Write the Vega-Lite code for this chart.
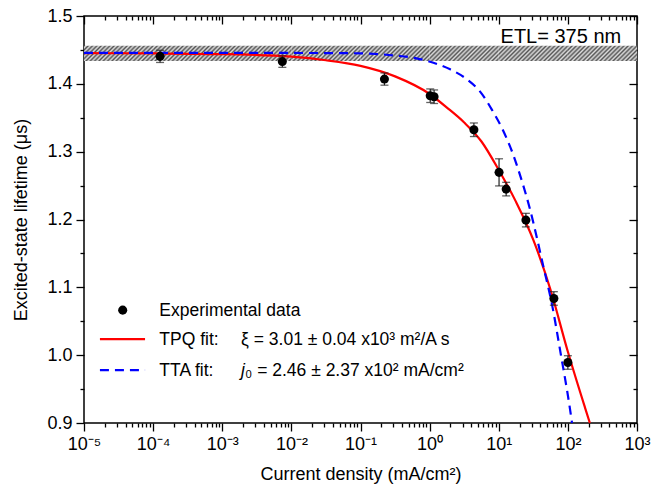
{
  "$schema": "https://vega.github.io/schema/vega-lite/v6.json",
  "width": 553,
  "height": 407,
  "autosize": {"type": "none"},
  "padding": {"left": 84, "top": 16, "right": 34, "bottom": 66},
  "background": "white",
  "config": {
    "view": {"stroke": "black", "strokeWidth": 1.5},
    "axis": {
      "domain": false,
      "grid": false,
      "tickColor": "black",
      "tickWidth": 1.3,
      "labelColor": "black",
      "labelFont": "Liberation Sans",
      "labelFontSize": 18,
      "titleFont": "Liberation Sans",
      "titleFontSize": 18,
      "titleFontWeight": "normal",
      "titleColor": "black"
    },
    "text": {"font": "Liberation Sans", "color": "black"}
  },
  "datasets": {
    "band": [
      {"from": 0.00001, "to": 0.0001, "low": 1.4336, "high": 1.4562},
      {"from": 0.0001, "to": 0.001, "low": 1.4336, "high": 1.4562},
      {"from": 0.001, "to": 0.01, "low": 1.4336, "high": 1.4562},
      {"from": 0.01, "to": 0.1, "low": 1.4336, "high": 1.4562},
      {"from": 0.1, "to": 1, "low": 1.4336, "high": 1.4562},
      {"from": 1, "to": 10, "low": 1.4336, "high": 1.4562},
      {"from": 10, "to": 100, "low": 1.4336, "high": 1.4562},
      {"from": 100, "to": 1000, "low": 1.4336, "high": 1.4562}
    ],
    "points": [
      {"j": 0.000126, "tau": 1.4405, "lo": 1.4315, "hi": 1.4495},
      {"j": 0.0074, "tau": 1.4328, "lo": 1.4243, "hi": 1.4413},
      {"j": 0.222, "tau": 1.407, "lo": 1.398, "hi": 1.416},
      {"j": 1.02, "tau": 1.3825, "lo": 1.3725, "hi": 1.3925},
      {"j": 1.16, "tau": 1.381, "lo": 1.371, "hi": 1.391},
      {"j": 4.37, "tau": 1.3323, "lo": 1.3223, "hi": 1.3423},
      {"j": 10.1, "tau": 1.2695, "lo": 1.2495, "hi": 1.2895},
      {"j": 12.8, "tau": 1.2448, "lo": 1.2348, "hi": 1.2548},
      {"j": 24.7, "tau": 1.1991, "lo": 1.1891, "hi": 1.2091},
      {"j": 62.7, "tau": 1.0836, "lo": 1.0736, "hi": 1.0936},
      {"j": 100, "tau": 0.9892, "lo": 0.9792, "hi": 0.9992}
    ],
    "curves": [
      {"fit": "TPQ", "j": 0.00001, "tau": 1.4452},
      {"fit": "TPQ", "j": 0.0001, "tau": 1.4448},
      {"fit": "TPQ", "j": 0.001, "tau": 1.4438},
      {"fit": "TPQ", "j": 0.01, "tau": 1.4400},
      {"fit": "TPQ", "j": 0.03162, "tau": 1.4348},
      {"fit": "TPQ", "j": 0.1, "tau": 1.4265},
      {"fit": "TPQ", "j": 0.3162, "tau": 1.411},
      {"fit": "TPQ", "j": 1, "tau": 1.385},
      {"fit": "TPQ", "j": 1.778, "tau": 1.365},
      {"fit": "TPQ", "j": 3.162, "tau": 1.343},
      {"fit": "TPQ", "j": 5.623, "tau": 1.315},
      {"fit": "TPQ", "j": 10, "tau": 1.273},
      {"fit": "TPQ", "j": 17.78, "tau": 1.226},
      {"fit": "TPQ", "j": 31.62, "tau": 1.17},
      {"fit": "TPQ", "j": 56.23, "tau": 1.096},
      {"fit": "TPQ", "j": 100, "tau": 1.005},
      {"fit": "TPQ", "j": 177.8, "tau": 0.922},
      {"fit": "TPQ", "j": 208, "tau": 0.9},
      {"fit": "TTA", "j": 0.00001, "tau": 1.4455},
      {"fit": "TTA", "j": 0.01, "tau": 1.4455},
      {"fit": "TTA", "j": 0.1, "tau": 1.445},
      {"fit": "TTA", "j": 0.1698, "tau": 1.444},
      {"fit": "TTA", "j": 0.3311, "tau": 1.4415},
      {"fit": "TTA", "j": 0.6457, "tau": 1.4376},
      {"fit": "TTA", "j": 1.135, "tau": 1.4311},
      {"fit": "TTA", "j": 1.982, "tau": 1.4214},
      {"fit": "TTA", "j": 3.451, "tau": 1.4067},
      {"fit": "TTA", "j": 5.623, "tau": 1.386},
      {"fit": "TTA", "j": 7.943, "tau": 1.362},
      {"fit": "TTA", "j": 11.22, "tau": 1.334},
      {"fit": "TTA", "j": 15.85, "tau": 1.298},
      {"fit": "TTA", "j": 19.95, "tau": 1.268},
      {"fit": "TTA", "j": 28.51, "tau": 1.214},
      {"fit": "TTA", "j": 44.36, "tau": 1.13},
      {"fit": "TTA", "j": 58.61, "tau": 1.076},
      {"fit": "TTA", "j": 77.27, "tau": 1.007},
      {"fit": "TTA", "j": 107.9, "tau": 0.919},
      {"fit": "TTA", "j": 114.8, "tau": 0.9}
    ]
  },
  "resolve": {"axis": {"x": "independent", "y": "independent"}},
  "layer": [
    {
      "data": {"name": "band"},
      "mark": {
        "type": "rect",
        "fill": {
          "gradient": "linear", "x1": 0, "y1": 0, "x2": 1.1645, "y2": 0.2583,
          "stops": [
            {"offset": 0, "color": "#555"}, {"offset": 0.0256, "color": "#ddd"}, {"offset": 0.0511, "color": "#555"}, {"offset": 0.0767, "color": "#ddd"},
            {"offset": 0.1023, "color": "#555"}, {"offset": 0.1279, "color": "#ddd"}, {"offset": 0.1534, "color": "#555"}, {"offset": 0.179, "color": "#ddd"},
            {"offset": 0.2046, "color": "#555"}, {"offset": 0.2301, "color": "#ddd"}, {"offset": 0.2557, "color": "#555"}, {"offset": 0.2813, "color": "#ddd"},
            {"offset": 0.3068, "color": "#555"}, {"offset": 0.3324, "color": "#ddd"}, {"offset": 0.358, "color": "#555"}, {"offset": 0.3836, "color": "#ddd"},
            {"offset": 0.4091, "color": "#555"}, {"offset": 0.4347, "color": "#ddd"}, {"offset": 0.4603, "color": "#555"}, {"offset": 0.4858, "color": "#ddd"},
            {"offset": 0.5114, "color": "#555"}, {"offset": 0.537, "color": "#ddd"}, {"offset": 0.5625, "color": "#555"}, {"offset": 0.5881, "color": "#ddd"},
            {"offset": 0.6137, "color": "#555"}, {"offset": 0.6393, "color": "#ddd"}, {"offset": 0.6648, "color": "#555"}, {"offset": 0.6904, "color": "#ddd"},
            {"offset": 0.716, "color": "#555"}, {"offset": 0.7415, "color": "#ddd"}, {"offset": 0.7671, "color": "#555"}, {"offset": 0.7927, "color": "#ddd"},
            {"offset": 0.8182, "color": "#555"}, {"offset": 0.8438, "color": "#ddd"}, {"offset": 0.8694, "color": "#555"}, {"offset": 0.895, "color": "#ddd"},
            {"offset": 0.9205, "color": "#555"}, {"offset": 0.9461, "color": "#ddd"}, {"offset": 0.9717, "color": "#555"}, {"offset": 0.9972, "color": "#ddd"},
            {"offset": 1, "color": "#ddd"}
          ]
        }
      },
      "encoding": {
        "x": {
          "field": "from", "type": "quantitative",
          "scale": {"type": "log", "domain": [0.00001, 1000], "nice": false},
          "axis": {
            "orient": "bottom",
            "values": [0.00001, 0.0001, 0.001, 0.01, 0.1, 1, 10, 100, 1000],
            "labelExpr": "'10' + (datum.value < 0.5 ? '⁻' : '') + ['⁰','¹','²','³','⁴','⁵'][abs(round(log(datum.value) / LN10))]",
            "tickSize": 8, "labelPadding": 4, "labelFlush": false, "labelOverlap": false,
            "title": "Current density (mA/cm²)", "titlePadding": 12
          }
        },
        "x2": {"field": "to"},
        "y": {
          "field": "low", "type": "quantitative",
          "scale": {"domain": [0.9, 1.5], "nice": false, "zero": false},
          "axis": {
            "orient": "left",
            "values": [0.9, 1.0, 1.1, 1.2, 1.3, 1.4, 1.5],
            "format": ".1f", "tickSize": 8, "labelPadding": 4, "labelFlush": false,
            "title": "Excited-state  lifetime (μs)", "titlePadding": 16
          }
        },
        "y2": {"field": "high"}
      }
    },
    {
      "data": {"name": "curves"},
      "transform": [{"filter": "datum.fit === 'TPQ'"}],
      "mark": {"type": "line", "color": "#ff0000", "strokeWidth": 2.2, "interpolate": "monotone"},
      "encoding": {
        "x": {
          "field": "j", "type": "quantitative",
          "scale": {"type": "log", "domain": [0.00001, 1000], "nice": false},
          "axis": {
            "orient": "bottom", "labels": false, "title": null, "tickSize": 4,
            "values": [0.00002, 0.00003, 0.00004, 0.00005, 0.00006, 0.00007, 0.00008, 0.00009, 0.0002, 0.0003, 0.0004, 0.0005, 0.0006, 0.0007, 0.0008, 0.0009, 0.002, 0.003, 0.004, 0.005, 0.006, 0.007, 0.008, 0.009, 0.02, 0.03, 0.04, 0.05, 0.06, 0.07, 0.08, 0.09, 0.2, 0.3, 0.4, 0.5, 0.6, 0.7, 0.8, 0.9, 2, 3, 4, 5, 6, 7, 8, 9, 20, 30, 40, 50, 60, 70, 80, 90, 200, 300, 400, 500, 600, 700, 800, 900]
          }
        },
        "y": {
          "field": "tau", "type": "quantitative",
          "scale": {"domain": [0.9, 1.5], "nice": false, "zero": false},
          "axis": {"orient": "left", "labels": false, "title": null, "tickSize": 4, "values": [0.95, 1.05, 1.15, 1.25, 1.35, 1.45]}
        }
      }
    },
    {
      "data": {"name": "curves"},
      "transform": [{"filter": "datum.fit === 'TTA'"}],
      "mark": {"type": "line", "color": "#0000ff", "strokeWidth": 2.2, "strokeDash": [9, 6], "interpolate": "monotone"},
      "encoding": {
        "x": {
          "field": "j", "type": "quantitative",
          "scale": {"type": "log", "domain": [0.00001, 1000], "nice": false},
          "axis": {"orient": "top", "labels": false, "title": null, "tickSize": -8, "values": [0.00001, 0.0001, 0.001, 0.01, 0.1, 1, 10, 100, 1000]}
        },
        "y": {
          "field": "tau", "type": "quantitative",
          "scale": {"domain": [0.9, 1.5], "nice": false, "zero": false},
          "axis": {"orient": "right", "labels": false, "title": null, "tickSize": -8, "values": [0.9, 1.0, 1.1, 1.2, 1.3, 1.4, 1.5]}
        }
      }
    },
    {
      "data": {"name": "points"},
      "mark": {"type": "rule", "color": "#222", "strokeWidth": 1.2},
      "encoding": {
        "x": {
          "field": "j", "type": "quantitative",
          "scale": {"type": "log", "domain": [0.00001, 1000], "nice": false},
          "axis": {
            "orient": "top", "labels": false, "title": null, "tickSize": -4,
            "values": [0.00002, 0.00003, 0.00004, 0.00005, 0.00006, 0.00007, 0.00008, 0.00009, 0.0002, 0.0003, 0.0004, 0.0005, 0.0006, 0.0007, 0.0008, 0.0009, 0.002, 0.003, 0.004, 0.005, 0.006, 0.007, 0.008, 0.009, 0.02, 0.03, 0.04, 0.05, 0.06, 0.07, 0.08, 0.09, 0.2, 0.3, 0.4, 0.5, 0.6, 0.7, 0.8, 0.9, 2, 3, 4, 5, 6, 7, 8, 9, 20, 30, 40, 50, 60, 70, 80, 90, 200, 300, 400, 500, 600, 700, 800, 900]
          }
        },
        "y": {
          "field": "lo", "type": "quantitative",
          "scale": {"domain": [0.9, 1.5], "nice": false, "zero": false},
          "axis": {"orient": "right", "labels": false, "title": null, "tickSize": -4, "values": [0.95, 1.05, 1.15, 1.25, 1.35, 1.45]}
        },
        "y2": {"field": "hi"}
      }
    },
    {
      "data": {"name": "points"},
      "mark": {"type": "tick", "orient": "horizontal", "size": 8, "thickness": 1.3, "color": "#222"},
      "encoding": {
        "x": {"field": "j", "type": "quantitative", "axis": null},
        "y": {"field": "lo", "type": "quantitative", "axis": null}
      }
    },
    {
      "data": {"name": "points"},
      "mark": {"type": "tick", "orient": "horizontal", "size": 8, "thickness": 1.3, "color": "#222"},
      "encoding": {
        "x": {"field": "j", "type": "quantitative", "axis": null},
        "y": {"field": "hi", "type": "quantitative", "axis": null}
      }
    },
    {
      "data": {"name": "points"},
      "mark": {"type": "circle", "size": 82, "color": "black", "opacity": 1},
      "encoding": {
        "x": {"field": "j", "type": "quantitative", "axis": null},
        "y": {"field": "tau", "type": "quantitative", "axis": null}
      }
    },
    {
      "data": {"values": [{}]},
      "mark": {"type": "text", "text": "ETL= 375 nm", "fontSize": 20, "align": "right", "baseline": "alphabetic"},
      "encoding": {
        "x": {"datum": 590, "type": "quantitative", "axis": null},
        "y": {"datum": 1.4602, "type": "quantitative", "axis": null}
      }
    },
    {
      "data": {"values": [{}]},
      "mark": {"type": "circle", "size": 82, "color": "black", "opacity": 1},
      "encoding": {
        "x": {"datum": 0.0000363, "type": "quantitative", "axis": null},
        "y": {"datum": 1.0664, "type": "quantitative", "axis": null}
      }
    },
    {
      "data": {"values": [{}]},
      "mark": {"type": "text", "text": "Experimental data", "fontSize": 17.5, "align": "left", "baseline": "alphabetic"},
      "encoding": {
        "x": {"datum": 0.000123, "type": "quantitative", "axis": null},
        "y": {"datum": 1.0575, "type": "quantitative", "axis": null}
      }
    },
    {
      "data": {"values": [{}]},
      "mark": {"type": "rule", "color": "#ff0000", "strokeWidth": 2.2},
      "encoding": {
        "x": {"datum": 0.000017, "type": "quantitative", "axis": null},
        "x2": {"datum": 0.0000764},
        "y": {"datum": 1.0236, "type": "quantitative", "axis": null}
      }
    },
    {
      "data": {"values": [{}]},
      "mark": {"type": "text", "text": "TPQ fit:", "fontSize": 17.5, "align": "left", "baseline": "alphabetic"},
      "encoding": {
        "x": {"datum": 0.000123, "type": "quantitative", "axis": null},
        "y": {"datum": 1.0147, "type": "quantitative", "axis": null}
      }
    },
    {
      "data": {"values": [{}]},
      "mark": {"type": "text", "text": "ξ = 3.01 ± 0.04 x10³ m²/A s", "fontSize": 17.5, "align": "left", "baseline": "alphabetic"},
      "encoding": {
        "x": {"datum": 0.00187, "type": "quantitative", "axis": null},
        "y": {"datum": 1.0147, "type": "quantitative", "axis": null}
      }
    },
    {
      "data": {"values": [{}]},
      "mark": {"type": "rule", "color": "#0000ff", "strokeWidth": 2.2, "strokeDash": [9, 6]},
      "encoding": {
        "x": {"datum": 0.000017, "type": "quantitative", "axis": null},
        "x2": {"datum": 0.0000764},
        "y": {"datum": 0.9779, "type": "quantitative", "axis": null}
      }
    },
    {
      "data": {"values": [{}]},
      "mark": {"type": "text", "text": "TTA fit:", "fontSize": 17.5, "align": "left", "baseline": "alphabetic"},
      "encoding": {
        "x": {"datum": 0.000123, "type": "quantitative", "axis": null},
        "y": {"datum": 0.969, "type": "quantitative", "axis": null}
      }
    },
    {
      "data": {"values": [{}]},
      "mark": {"type": "text", "text": "j", "fontSize": 17.5, "fontStyle": "italic", "align": "left", "baseline": "alphabetic"},
      "encoding": {
        "x": {"datum": 0.00187, "type": "quantitative", "axis": null},
        "y": {"datum": 0.969, "type": "quantitative", "axis": null}
      }
    },
    {
      "data": {"values": [{}]},
      "mark": {"type": "text", "text": "₀ = 2.46 ± 2.37 x10² mA/cm²", "fontSize": 17.5, "align": "left", "baseline": "alphabetic", "dx": 4},
      "encoding": {
        "x": {"datum": 0.00187, "type": "quantitative", "axis": null},
        "y": {"datum": 0.969, "type": "quantitative", "axis": null}
      }
    }
  ]
}
